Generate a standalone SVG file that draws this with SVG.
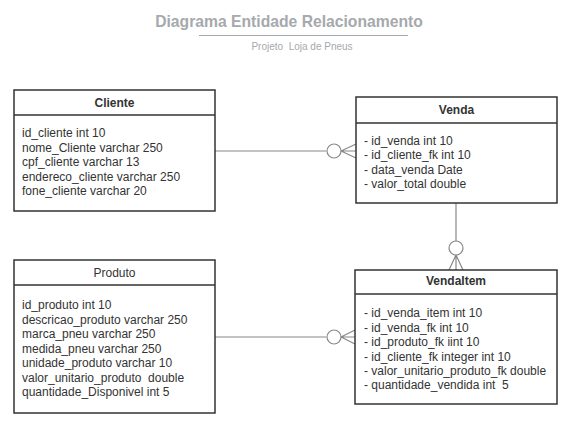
<svg xmlns="http://www.w3.org/2000/svg" width="577" height="427" viewBox="0 0 577 427">
<style>
.box{fill:#fff;stroke:#333;stroke-width:1.5}
.div{stroke:#333;stroke-width:1.5}
.t{font-family:"Liberation Sans",Arial,sans-serif;font-size:12px;fill:#333}
.h{font-family:"Liberation Sans",Arial,sans-serif;font-size:12px;fill:#333;text-anchor:middle}
.hb{font-weight:bold}
.c{fill:none;stroke:#888;stroke-width:1.2}
.ci{fill:#fff;stroke:#888;stroke-width:1.2}
</style>
<rect width="577" height="427" fill="#fff"/>
<g id="title">
<text x="289" y="27" text-anchor="middle" font-family="Liberation Sans,Arial,sans-serif" font-size="15.7" font-weight="bold" fill="#a6a9ad">Diagrama Entidade Relacionamento</text>
<line x1="199" y1="35.5" x2="408" y2="35.5" stroke="#a6a9ad" stroke-width="1.2"/>
<text x="302" y="50" text-anchor="middle" font-family="Liberation Sans,Arial,sans-serif" font-size="10" fill="#a6a9ad" xml:space="preserve">Projeto  Loja de Pneus</text>
</g>
<g id="connectors">
<path class="c" d="M215 151H326"/>
<circle class="ci" cx="334" cy="151" r="7"/>
<path class="c" d="M341 151L356 144M341 151H356M341 151L356 158"/>
<path class="c" d="M456 203V241"/>
<circle class="ci" cx="456" cy="248" r="7"/>
<path class="c" d="M456 255L449 270M456 255V270M456 255L463 270"/>
<path class="c" d="M215 337H326"/>
<circle class="ci" cx="334" cy="337" r="7"/>
<path class="c" d="M341 337L355 330M341 337H355M341 337L355 344"/>
</g>
<g id="cliente">
<rect class="box" x="14" y="90" width="201" height="121"/>
<line class="div" x1="14" y1="115" x2="215" y2="115"/>
<text class="h hb" x="114.5" y="106.5">Cliente</text>
<text class="t" x="22" y="137">id_cliente int 10</text>
<text class="t" x="22" y="152">nome_Cliente varchar 250</text>
<text class="t" x="22" y="166">cpf_cliente varchar 13</text>
<text class="t" x="22" y="181">endereco_cliente varchar 250</text>
<text class="t" x="22" y="195">fone_cliente varchar 20</text>
</g>
<g id="venda">
<rect class="box" x="356" y="97" width="201" height="106"/>
<line class="div" x1="356" y1="123" x2="557" y2="123"/>
<text class="h hb" x="456.5" y="114">Venda</text>
<text class="t" x="364" y="145">- id_venda int 10</text>
<text class="t" x="364" y="159">- id_cliente_fk int 10</text>
<text class="t" x="364" y="174">- data_venda Date</text>
<text class="t" x="364" y="188">- valor_total double</text>
</g>
<g id="produto">
<rect class="box" x="14" y="260" width="201" height="153"/>
<line class="div" x1="14" y1="285" x2="215" y2="285"/>
<text class="h" x="114.5" y="276.5">Produto</text>
<text class="t" x="22" y="308.5">id_produto int 10</text>
<text class="t" x="22" y="323.5">descricao_produto varchar 250</text>
<text class="t" x="22" y="337.5">marca_pneu varchar 250</text>
<text class="t" x="22" y="352.5">medida_pneu varchar 250</text>
<text class="t" x="22" y="367">unidade_produto varchar 10</text>
<text class="t" x="22" y="381.5" xml:space="preserve">valor_unitario_produto  double</text>
<text class="t" x="22" y="396">quantidade_Disponivel int 5</text>
</g>
<g id="vendaitem">
<rect class="box" x="355" y="270" width="202" height="134"/>
<line class="div" x1="355" y1="294" x2="557" y2="294"/>
<text class="h hb" x="456" y="284.5">VendaItem</text>
<text class="t" x="364" y="317">- id_venda_item int 10</text>
<text class="t" x="364" y="331.5">- id_venda_fk int 10</text>
<text class="t" x="364" y="346">- id_produto_fk iint 10</text>
<text class="t" x="364" y="360.5">- id_cliente_fk integer int 10</text>
<text class="t" x="364" y="375">- valor_unitario_produto_fk double</text>
<text class="t" x="364" y="389" xml:space="preserve">- quantidade_vendida int  5</text>
</g>
</svg>
